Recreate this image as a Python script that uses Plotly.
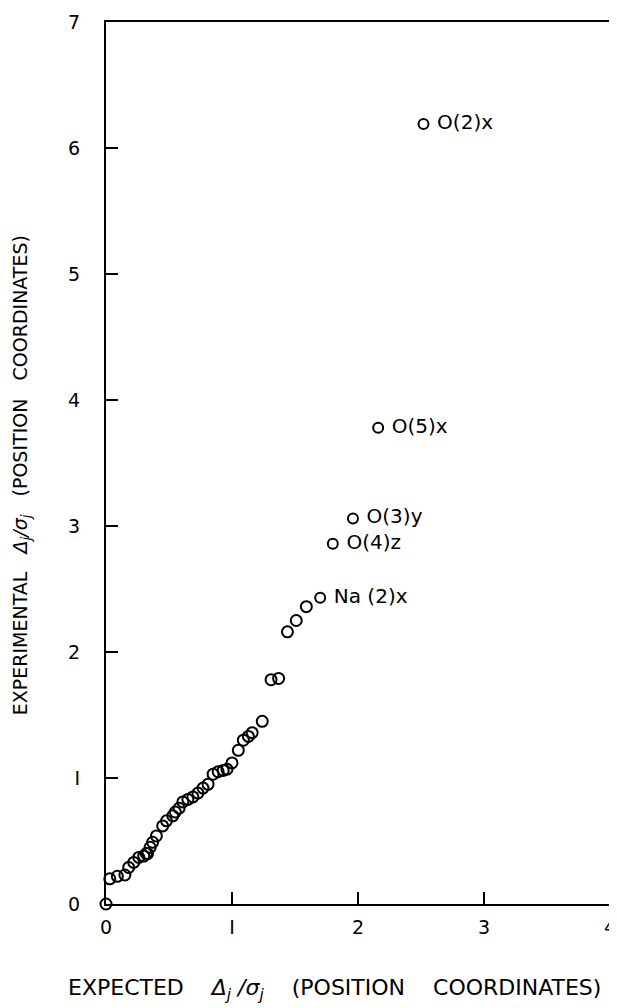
import plotly.graph_objects as go

# Main cluster of points (expected vs experimental Delta_j/sigma_j)
expected = [0.00, 0.03, 0.09, 0.15, 0.18, 0.22, 0.26, 0.30, 0.32, 0.33, 0.35, 0.37,
            0.40, 0.45, 0.48, 0.53, 0.55, 0.58, 0.61, 0.65, 0.69, 0.73, 0.77, 0.81,
            0.85, 0.89, 0.93, 0.96, 1.00, 1.05, 1.09, 1.13, 1.16, 1.24, 1.31, 1.37,
            1.44, 1.51, 1.59]
experimental = [0.00, 0.20, 0.22, 0.23, 0.29, 0.33, 0.37, 0.38, 0.40, 0.40, 0.45, 0.49,
                0.54, 0.62, 0.66, 0.70, 0.73, 0.76, 0.81, 0.83, 0.85, 0.88, 0.92, 0.95,
                1.03, 1.05, 1.06, 1.07, 1.12, 1.22, 1.30, 1.33, 1.36, 1.45, 1.78, 1.79,
                2.16, 2.25, 2.36]

# Labelled outliers
label_expected = [1.70, 1.80, 1.96, 2.16, 2.52]
label_experimental = [2.43, 2.86, 3.06, 3.78, 6.19]
labels = ["Na (2)x", "O(4)z", "O(3)y", "O(5)x", "O(2)x"]

x_ticks = [0, 1, 2, 3, 4]
x_tick_text = ["0", "I", "2", "3", "4"]
y_ticks = [0, 1, 2, 3, 4, 5, 6, 7]
y_tick_text = ["0", "I", "2", "3", "4", "5", "6", "7"]

FONT = "DejaVu Sans"
SP = "&nbsp;"

fig = go.Figure()
fig.add_trace(go.Scatter(
    x=expected, y=experimental, mode="markers",
    marker=dict(symbol="circle-open", size=11, color="black", line=dict(width=2, color="black")),
    cliponaxis=False, showlegend=False,
))
fig.add_trace(go.Scatter(
    x=label_expected, y=label_experimental, mode="markers+text",
    text=[" " + s for s in labels], textposition="middle right",
    textfont=dict(family=FONT, size=20, color="black"),
    marker=dict(symbol="circle-open", size=10, color="black", line=dict(width=2, color="black")),
    cliponaxis=False, showlegend=False,
))

axis_common = dict(
    showgrid=False, zeroline=False, showline=True, linecolor="black", linewidth=2,
    mirror=True, ticks="inside", ticklen=12, tickwidth=2, tickcolor="black",
    tickfont=dict(family=FONT, size=19, color="black"), automargin=False,
)
fig.update_xaxes(range=[0, 4], tickvals=x_ticks, ticktext=x_tick_text,
                 ticklabelstandoff=5, **axis_common)
fig.update_yaxes(range=[0, 7], tickvals=y_ticks, ticktext=y_tick_text,
                 ticklabelstandoff=20, **axis_common)

fig.add_annotation(
    xref="paper", yref="paper", x=0.454, y=-0.097, xanchor="center", yanchor="middle",
    text="EXPECTED" + SP * 4 + "<i>Δ<sub>j</sub> /σ<sub>j</sub></i>" + SP * 4
         + "(POSITION" + SP * 4 + "COORDINATES)",
    showarrow=False, font=dict(family=FONT, size=22, color="black"),
)
fig.add_annotation(
    xref="paper", yref="paper", x=-0.167, y=0.486, xanchor="center", yanchor="middle",
    textangle=-90,
    text="EXPERIMENTAL" + SP * 3 + "<i>Δ<sub>j</sub>/σ<sub>j</sub></i>" + SP * 3
         + "(POSITION" + SP * 3 + "COORDINATES)",
    showarrow=False, font=dict(family=FONT, size=19, color="black"),
)

# The page body adds an 8 px offset, so the figure is 8 px smaller on each axis.
fig.update_layout(
    width=609, height=1000,
    margin=dict(l=98, r=7, t=14, b=104),
    paper_bgcolor="white", plot_bgcolor="white",
    font=dict(family=FONT, color="black"),
)

fig.write_html("out.html")
